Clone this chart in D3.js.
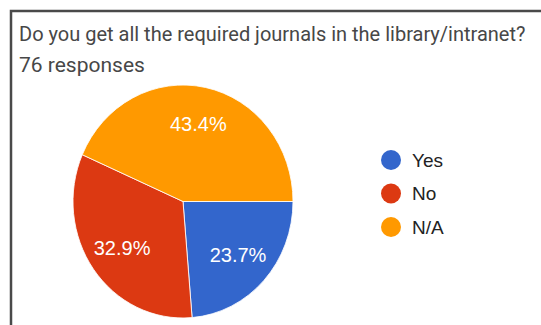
<!DOCTYPE html>
<html>
<head>
<meta charset="utf-8">
<script src="https://cdn.jsdelivr.net/npm/d3@7"></script>
<style>
  html, body { margin: 0; padding: 0; background: #fff; }
  svg { display: block; }
</style>
</head>
<body>
<svg id="chart" width="541" height="325"></svg>
<script>
// Survey answers
const title = "Do you get all the required journals in the library/intranet?";
const subtitle = "76 responses";
const categories = ["Yes", "No", "N/A"];
const counts = [18, 25, 33];
const colors = ["#3366cc", "#dc3912", "#ff9900"];

const W = 541, H = 325;
const svg = d3.select("#chart");

// Card outline (runs off the right and bottom edges)
svg.append("rect")
  .attr("x", 11).attr("y", 11)
  .attr("width", W + 20).attr("height", H + 20)
  .attr("fill", "#fff")
  .attr("stroke", "#4a4a4a")
  .attr("stroke-width", 2.5);

svg.append("text")
  .attr("x", 19).attr("y", 41)
  .attr("font-family", "Roboto, Arial, sans-serif")
  .attr("font-size", 20)
  .attr("fill", "#474747")
  .text(title);

svg.append("text")
  .attr("x", 19).attr("y", 72)
  .attr("font-family", "Roboto, Arial, sans-serif")
  .attr("font-size", 21)
  .attr("fill", "#474747")
  .text(subtitle);

// Pie
const cx = 183, cy = 201.5, r = 110, sy = 1.059;
const total = d3.sum(counts);
const data = categories.map((c, i) => ({ cat: c, value: counts[i], color: colors[i] }));

const pie = d3.pie()
  .value(d => d.value)
  .sort(null)
  .startAngle(Math.PI / 2)
  .endAngle(Math.PI / 2 + 2 * Math.PI);
const arcs = pie(data);

const arc = d3.arc().innerRadius(0).outerRadius(r);
const labelArc = d3.arc().innerRadius(r * 0.68).outerRadius(r * 0.68);

const g = svg.append("g")
  .attr("transform", `translate(${cx},${cy}) scale(1,${sy})`);

g.selectAll("path")
  .data(arcs)
  .join("path")
  .attr("d", arc)
  .attr("fill", d => d.data.color)
  .attr("stroke", "#fff")
  .attr("stroke-width", 0.8);

const fmt = d3.format(".1%");
svg.append("g")
  .selectAll("text")
  .data(arcs)
  .join("text")
  .attr("x", d => cx + labelArc.centroid(d)[0])
  .attr("y", d => cy + labelArc.centroid(d)[1] * sy)
  .attr("dy", "0.36em")
  .attr("text-anchor", "middle")
  .attr("font-family", "Arial, 'Liberation Sans', sans-serif")
  .attr("font-size", 20)
  .attr("fill", "#fff")
  .text(d => fmt(d.data.value / total));

// Legend
const legendY = d3.scalePoint().domain(categories).range([160, 227]);
const lg = svg.append("g");
const item = lg.selectAll("g")
  .data(data)
  .join("g")
  .attr("transform", d => `translate(391,${legendY(d.cat)})`);
item.append("circle")
  .attr("r", 10)
  .attr("fill", d => d.color);
item.append("text")
  .attr("x", 21)
  .attr("dy", "0.36em")
  .attr("font-family", "Arial, 'Liberation Sans', sans-serif")
  .attr("font-size", 19)
  .attr("fill", "#222")
  .text(d => d.cat);
</script>
</body>
</html>
